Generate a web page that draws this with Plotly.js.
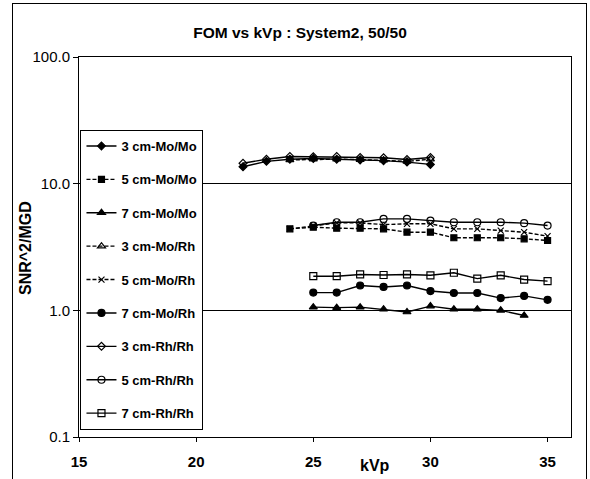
<!DOCTYPE html>
<html>
<head>
<meta charset="utf-8">
<script src="https://cdn.plot.ly/plotly-3.0.1.min.js"></script>
<style>
  html, body { margin: 0; padding: 0; background: #fff; }
  #wrap { position: relative; width: 590px; height: 479px; }
  #chart { position: absolute; left: 0; top: 0; width: 590px; height: 479px; }
  #frame { position: absolute; left: 12px; top: 3px; width: 573px; height: 490px; border: 1px solid #000; pointer-events: none; }
</style>
</head>
<body>
<div id="wrap">
  <div id="chart"></div>
  <div id="frame"></div>
</div>
<script>
// ---- data ----
const seriesNames = [
  "3 cm-Mo/Mo", "5 cm-Mo/Mo", "7 cm-Mo/Mo",
  "3 cm-Mo/Rh", "5 cm-Mo/Rh", "7 cm-Mo/Rh",
  "3 cm-Rh/Rh", "5 cm-Rh/Rh", "7 cm-Rh/Rh"
];

const kvp3MoMo = [22, 23, 24, 25, 26, 27, 28, 29, 30];
const fom3MoMo = [13.6, 15.0, 15.6, 15.8, 15.6, 15.4, 15.2, 14.8, 14.2];

const kvp5MoMo = [24, 25, 26, 27, 28, 29, 30, 31, 32, 33, 34, 35];
const fom5MoMo = [4.40, 4.53, 4.45, 4.45, 4.40, 4.14, 4.14, 3.74, 3.74, 3.74, 3.67, 3.56];

const kvp7MoMo = [25, 26, 27, 28, 29, 30, 31, 32, 33, 34];
const fom7MoMo = [1.06, 1.05, 1.06, 1.02, 0.97, 1.08, 1.02, 1.02, 1.00, 0.91];

const kvp3MoRh = [24, 25, 26, 27, 28, 29, 30];
const fom3MoRh = [15.4, 15.6, 15.6, 15.5, 15.3, 15.0, 15.6];

const kvp5MoRh = [24, 25, 26, 27, 28, 29, 30, 31, 32, 33, 34, 35];
const fom5MoRh = [4.40, 4.67, 4.90, 4.90, 4.75, 4.82, 4.82, 4.40, 4.40, 4.26, 4.14, 3.85];

const kvp7MoRh = [25, 26, 27, 28, 29, 30, 31, 32, 33, 34, 35];
const fom7MoRh = [1.38, 1.38, 1.57, 1.53, 1.57, 1.42, 1.37, 1.37, 1.25, 1.30, 1.21];

const kvp3RhRh = [22, 23, 24, 25, 26, 27, 28, 29, 30];
const fom3RhRh = [14.5, 15.6, 16.4, 16.3, 16.4, 16.1, 16.0, 15.5, 16.1];

const kvp5RhRh = [25, 26, 27, 28, 29, 30, 31, 32, 33, 34, 35];
const fom5RhRh = [4.67, 4.96, 4.96, 5.27, 5.27, 5.11, 4.96, 4.96, 4.96, 4.88, 4.67];

const kvp7RhRh = [25, 26, 27, 28, 29, 30, 31, 32, 33, 34, 35];
const fom7RhRh = [1.86, 1.86, 1.92, 1.90, 1.92, 1.89, 1.98, 1.78, 1.89, 1.75, 1.70];

const xTickVals = [15, 20, 25, 30, 35];
const yTickVals = [0.1, 1, 10, 100];
const yTickText = ["0.1", "1.0", "10.0", "100.0"];

// ---- styles ----
const FONT = "Liberation Sans, Arial, sans-serif";
const xs = [kvp3MoMo, kvp5MoMo, kvp7MoMo, kvp3MoRh, kvp5MoRh, kvp7MoRh, kvp3RhRh, kvp5RhRh, kvp7RhRh];
const ys = [fom3MoMo, fom5MoMo, fom7MoMo, fom3MoRh, fom5MoRh, fom7MoRh, fom3RhRh, fom5RhRh, fom7RhRh];
const styles = [
  {symbol: "diamond", size: 6, dash: "solid"},
  {symbol: "square", size: 6, dash: "4px,2px"},
  {symbol: "triangle-up", size: 7, dash: "solid"},
  {symbol: "triangle-up-open", size: 7, dash: "4px,2px"},
  {symbol: "x-thin-open", size: 6, dash: "4px,2px"},
  {symbol: "circle", size: 7, dash: "solid"},
  {symbol: "diamond-open", size: 6, dash: "solid"},
  {symbol: "circle-open", size: 7, dash: "solid"},
  {symbol: "square-open", size: 7, dash: "solid"}
];

const traces = seriesNames.map((name, i) => ({
  type: "scatter",
  mode: "lines+markers",
  name: name,
  x: xs[i],
  y: ys[i],
  legendgroup: "g" + i,
  line: {color: "#000", width: 1.4, dash: styles[i].dash},
  marker: {symbol: styles[i].symbol, size: styles[i].size, color: "#000",
           line: {color: "#000", width: 1.2}}
}));

const layout = {
  width: 590,
  height: 479,
  margin: {l: 79, r: 19, t: 57, b: 42},
  paper_bgcolor: "#fff",
  plot_bgcolor: "#fff",
  font: {family: FONT, color: "#000"},
  title: {text: "FOM vs kVp : System2, 50/50", font: {family: FONT, size: 15.5, weight: "bold", color: "#000"},
          x: 300 / 590, xanchor: "center", xref: "container",
          y: 1 - 33 / 479, yanchor: "middle", yref: "container"},
  showlegend: true,
  legend: {
    x: 0.003, xanchor: "left", y: (437 - 130) / 380, yanchor: "top",
    bgcolor: "#fff", bordercolor: "#000", borderwidth: 1,
    font: {family: FONT, size: 13, weight: "bold", color: "#000"},
    tracegroupgap: 13.5
  },
  xaxis: {
    type: "linear", range: [15, 36],
    tickvals: xTickVals, ticktext: xTickVals.map(String),
    ticks: "outside", ticklen: 4, tickcolor: "#000",
    tickfont: {family: FONT, size: 15, weight: "bold", color: "#000"},
    ticklabelstandoff: 7,
    showline: true, linecolor: "#000", linewidth: 1, mirror: true,
    showgrid: false, zeroline: false
  },
  yaxis: {
    type: "log", range: [-1, 2],
    tickvals: yTickVals, ticktext: yTickText,
    ticks: "outside", ticklen: 5, tickcolor: "#000",
    tickfont: {family: FONT, size: 15, color: "#000"},
    showline: true, linecolor: "#000", linewidth: 1, mirror: true,
    showgrid: true, gridcolor: "#000", gridwidth: 1, zeroline: false
  },
  annotations: [
    {text: "kVp", xref: "paper", yref: "paper", x: (375 - 79) / 492, y: -(465 - 437) / 380,
     xanchor: "center", yanchor: "middle", showarrow: false,
     font: {family: FONT, size: 16, weight: "bold", color: "#000"}},
    {text: "SNR^2/MGD", xref: "paper", yref: "paper", x: (25 - 79) / 492, y: (437 - 248) / 380,
     xanchor: "center", yanchor: "middle", showarrow: false, textangle: -90,
     font: {family: FONT, size: 16, weight: "bold", color: "#000"}}
  ]
};

Plotly.newPlot("chart", traces, layout, {displayModeBar: false, staticPlot: true});
</script>
</body>
</html>
